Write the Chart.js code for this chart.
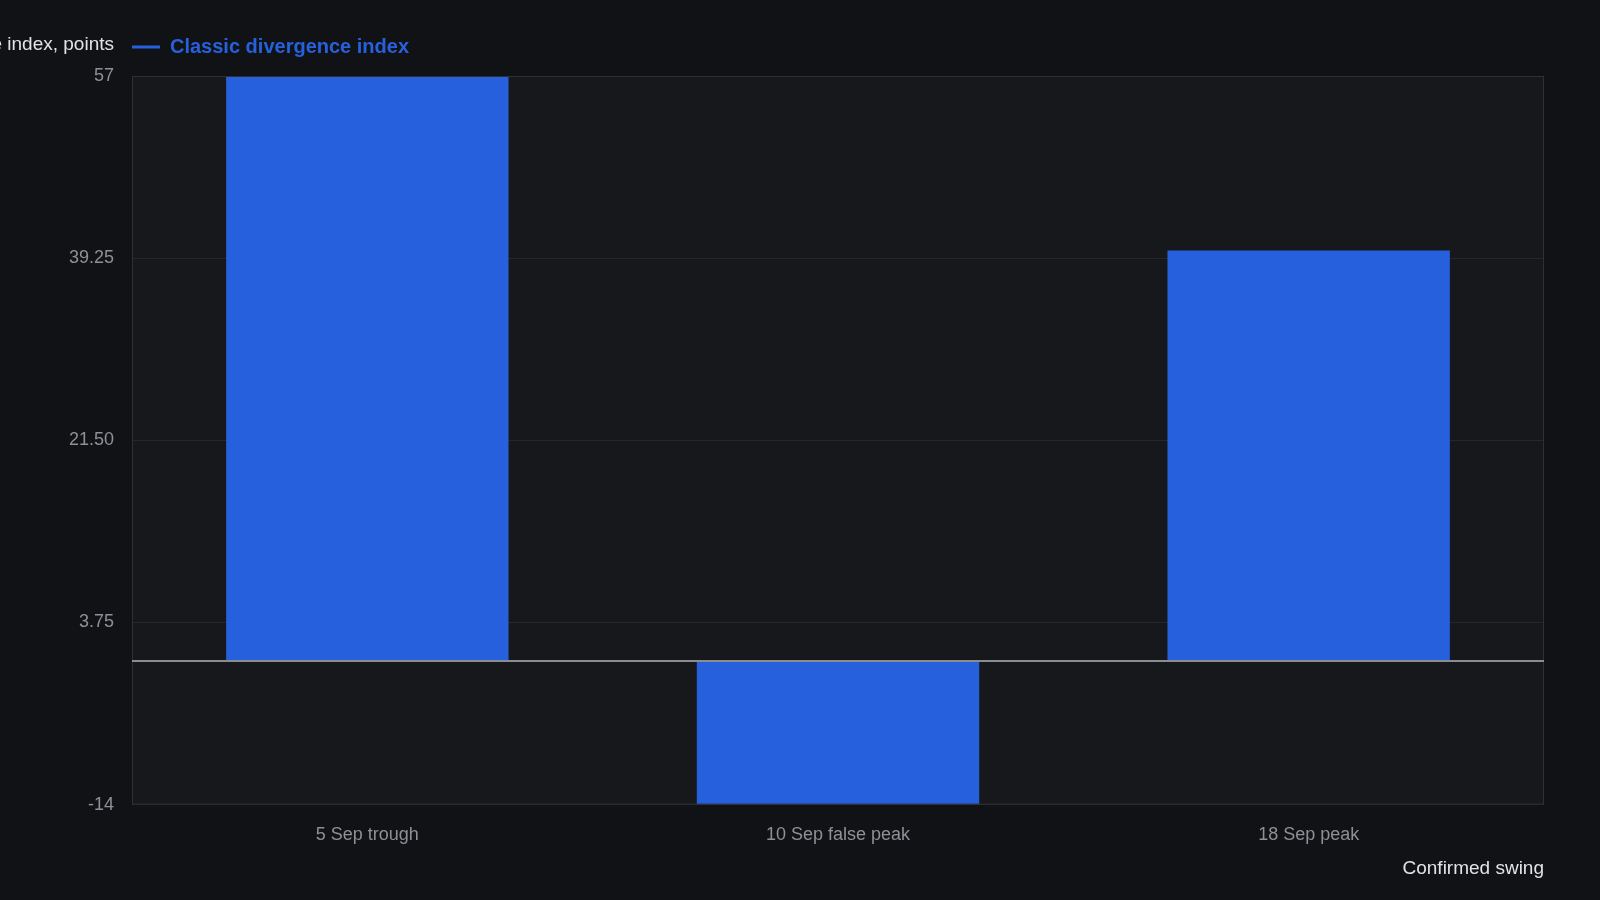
<!DOCTYPE html>
<html lang="en">
<head>
    <meta charset="UTF-8">
    <title>Classic divergence index</title>
    <script src="https://cdn.jsdelivr.net/npm/chart.js"></script>
    <style>
        html, body { margin: 0; padding: 0; background: #111216; }
        #wrap { width: 1600px; height: 900px; }
    </style>
</head>
<body>
    <div id="wrap"><canvas id="myChart" width="1600" height="900"></canvas></div>

    <script>
        // data
        const swings = ['5 Sep trough', '10 Sep false peak', '18 Sep peak'];
        const divergence = [57, -14, 40];
        const yTickLabels = ['-14', '3.75', '21.50', '39.25', '57'];
        const yMin = -14, yMax = 57, yStep = 17.75;

        const FONT = "'Liberation Sans', Arial, sans-serif";
        const BLUE = '#2660dc';
        const LEGEND_PAD = 19;

        // plot background, frame, zero line and the axis caption next to the legend
        const decor = {
            id: 'decor',
            afterLayout(chart) {
                // legend starts at the plot's left edge, a bit above the plot
                chart.legend.left = chart.chartArea.left - LEGEND_PAD;
                chart.legend.top -= 9;
            },
            beforeDraw(chart) {
                const { ctx, chartArea: a } = chart;
                ctx.save();
                ctx.fillStyle = '#17181b';
                ctx.fillRect(a.left, a.top, a.right - a.left, a.bottom - a.top);
                ctx.restore();
            },
            afterDatasetsDraw(chart) {
                const { ctx, chartArea: a } = chart;
                const y0 = chart.scales.y.getPixelForValue(0);
                ctx.save();
                ctx.strokeStyle = '#2e3034';
                ctx.lineWidth = 1;
                ctx.strokeRect(a.left + 0.5, a.top + 0.5, a.right - a.left - 1, a.bottom - a.top - 1);
                ctx.strokeStyle = '#8a8c90';
                ctx.lineWidth = 2;
                ctx.beginPath();
                ctx.moveTo(a.left, y0);
                ctx.lineTo(a.right, y0);
                ctx.stroke();
                ctx.restore();
            },
            afterDraw(chart) {
                const { ctx } = chart;
                const lg = chart.legend;
                const yMid = lg.top + LEGEND_PAD + 10;
                ctx.save();
                ctx.font = '19px ' + FONT;
                ctx.fillStyle = '#e2e3e6';
                ctx.textAlign = 'right';
                ctx.textBaseline = 'middle';
                ctx.fillText('Divergence index, points', chart.chartArea.left - 18, yMid - 2);
                ctx.restore();
            }
        };

        const myChart = new Chart(document.getElementById('myChart'), {
            type: 'bar',
            data: {
                labels: swings,
                datasets: [{
                    label: 'Classic divergence index',
                    data: divergence,
                    backgroundColor: BLUE,
                    borderWidth: 0,
                    barPercentage: 0.6,
                    categoryPercentage: 1
                }]
            },
            options: {
                responsive: false,
                animation: false,
                layout: { padding: { left: 0, right: 56, top: 27, bottom: 20 } },
                plugins: {
                    legend: {
                        display: true,
                        align: 'start',
                        labels: {
                            boxWidth: 28,
                            boxHeight: 3,
                            padding: LEGEND_PAD,
                            color: BLUE,
                            font: { family: FONT, size: 20, weight: 'bold' },
                            generateLabels: (chart) => [{
                                text: 'Classic divergence index',
                                fillStyle: BLUE,
                                strokeStyle: BLUE,
                                lineWidth: 0,
                                fontColor: BLUE,
                                datasetIndex: 0
                            }]
                        }
                    },
                    tooltip: { enabled: false }
                },
                scales: {
                    x: {
                        afterFit(scale) { scale.height -= 2; },
                        grid: { display: false },
                        border: { display: false },
                        ticks: {
                            color: '#8e9095',
                            padding: 12,
                            font: { family: FONT, size: 18 }
                        },
                        title: {
                            display: true,
                            text: 'Confirmed swing',
                            align: 'end',
                            color: '#e2e3e6',
                            padding: { top: 1, bottom: 0 },
                            font: { family: FONT, size: 19 }
                        }
                    },
                    y: {
                        min: yMin,
                        max: yMax,
                        afterBuildTicks(scale) {
                            scale.ticks = yTickLabels.map((t, i) => ({ value: yMin + i * yStep }));
                        },
                        afterFit(scale) { scale.width = 132; },
                        grid: { color: '#25272b', lineWidth: 1, drawTicks: false },
                        border: { display: false },
                        ticks: {
                            color: '#8e9095',
                            padding: 18,
                            font: { family: FONT, size: 18 },
                            callback: (v, i) => yTickLabels[i]
                        }
                    }
                }
            },
            plugins: [decor]
        });
    </script>
</body>
</html>
